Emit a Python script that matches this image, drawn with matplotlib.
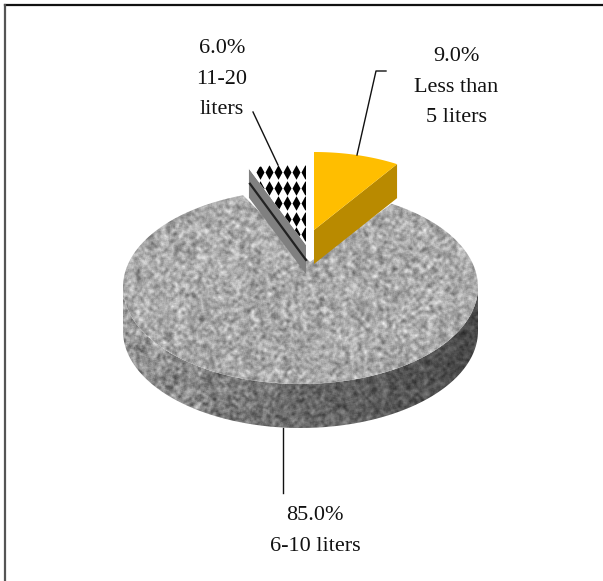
import numpy as np
import matplotlib
matplotlib.use("Agg")
import matplotlib.pyplot as plt
from matplotlib.path import Path
from matplotlib.patches import Polygon

plt.rcParams['font.family'] = ['Liberation Serif', 'DejaVu Serif']

# data
categories = ["Less than\n5 liters", "6-10 liters", "11-20\nliters"]
shares = [9.0, 85.0, 6.0]
label_text = ["%.1f%%\n%s" % (s, c) for s, c in zip(shares, categories)]

W, H = 603, 581


def arc(cx, cy, rx, ry, a0, a1, n=120):
    # angles in degrees, clockwise from 12 o'clock
    t = np.radians(np.linspace(a0, a1, n))
    return np.column_stack([cx + rx * np.sin(t), cy - ry * np.cos(t)])


def noise(w, h, seed):
    # shader style hash noise for the stone texture, two grain sizes
    y, x = np.mgrid[0:h, 0:w]
    raw = np.sin(x * 12.9898 + y * 78.233 + seed) * 43758.5453
    raw = raw - np.floor(raw)
    out = np.zeros((h, w))
    for blur, weight in [(1, 1.0), (2, 0.8)]:
        v = raw.copy()
        for axis in (0, 1):
            v = sum(np.roll(v, k, axis=axis) for k in range(-blur, blur + 1)) / (2 * blur + 1)
        out += weight * (v - v.mean()) / v.std()
    return out / out.std()


def stone(ax, pts, base, spread, seed, shade=None):
    patch = Polygon(pts, closed=True, fc="none", ec="none")
    ax.add_patch(patch)
    img = base + spread * noise(W, H, seed)
    if shade is not None:
        img = img * shade
    im = ax.imshow(np.clip(img, 0, 1), cmap="gray", vmin=0, vmax=1, extent=(0, W, H, 0),
                   interpolation="bilinear", zorder=patch.get_zorder())
    im.set_clip_path(patch)


fig = plt.figure(figsize=(W / 100, H / 100), dpi=100)
ax = fig.add_axes([0, 0, 1, 1])
ax.set_xlim(0, W)
ax.set_ylim(H, 0)
ax.axis("off")

# frame, top and left only
ax.plot([5, W], [4.5, 4.5], color="#111111", lw=1.6)
ax.plot([5, 5], [4.5, H], color="#555555", lw=1.6)

yellow_end = shares[0] * 3.6
gray_start = 360 - shares[2] * 3.6

# main slice
cx, cy, rx, ry, depth = 300.5, 287, 177.5, 97, 44
rim = arc(cx, cy, rx, ry, 90, 270)
rim_pts = np.vstack([rim, rim[::-1] + [0, depth]])
xx = np.arange(W)
shade = np.tile(np.interp(xx, [123, 300, 478], [1.15, 0.8, 0.55]), (H, 1))
stone(ax, rim_pts, 0.52, 0.07, 3.0, shade)
top = np.vstack([[[310, 262]], arc(cx, cy, rx, ry, yellow_end - 1.5, gray_start + 2.7)])
stone(ax, top, 0.66, 0.07, 1.0)

# yellow slice
yx, yy, yrx, yry, yd = 314, 230, 155, 78, 34
y_top = np.vstack([[[yx, yy]], arc(yx, yy, yrx, yry, 0, yellow_end, 40)])
corner = y_top[-1]
ax.add_patch(Polygon([[yx, yy], corner, corner + [0, yd], [yx, yy + yd]], fc="#B98A00", ec="none"))
ax.add_patch(Polygon(y_top, fc="#FFBE00", ec="none"))

# patterned slice
gx, gy, grx, gry, gd = 306, 245, 155, 82, 29
g_top = np.vstack([[[gx, gy]], arc(gx, gy, grx, gry, gray_start, 360, 30)])
left = g_top[1]
ax.add_patch(Polygon([left, [gx, gy], [gx, gy + gd], left + [0, gd]], fc="#808080", ec="none"))
ax.plot([left[0] + 1, gx], [left[1] + 15, gy + 15], color="#222222", lw=1.6)
tri = Polygon(g_top, fc="white", ec="none")
ax.add_patch(tri)
diamond = Path([(0, -1), (0.55, 0), (0, 1), (-0.55, 0), (0, -1)], closed=True)
px, py = np.meshgrid(np.arange(259.5, 306, 9), np.arange(172, 240, 15.5))
dots, = ax.plot(px.ravel(), py.ravel(), ls="none", marker=diamond, ms=10.5, color="black", mew=0)
dots.set_clip_path(tri)

# leader lines
ax.plot([283, 283], [428, 493], color="#111111", lw=1)
ax.plot([357, 376, 386], [155, 71, 71], color="#111111", lw=1)
ax.plot([278, 253], [165, 112], color="#111111", lw=1)

# labels
for txt, x, y in zip(label_text, [456, 315, 222], [87, 531, 79]):
    ax.text(x, y, txt, ha="center", va="center", fontsize=16, linespacing=1.79, color="#111111")

fig.savefig("out.png", dpi=100)
